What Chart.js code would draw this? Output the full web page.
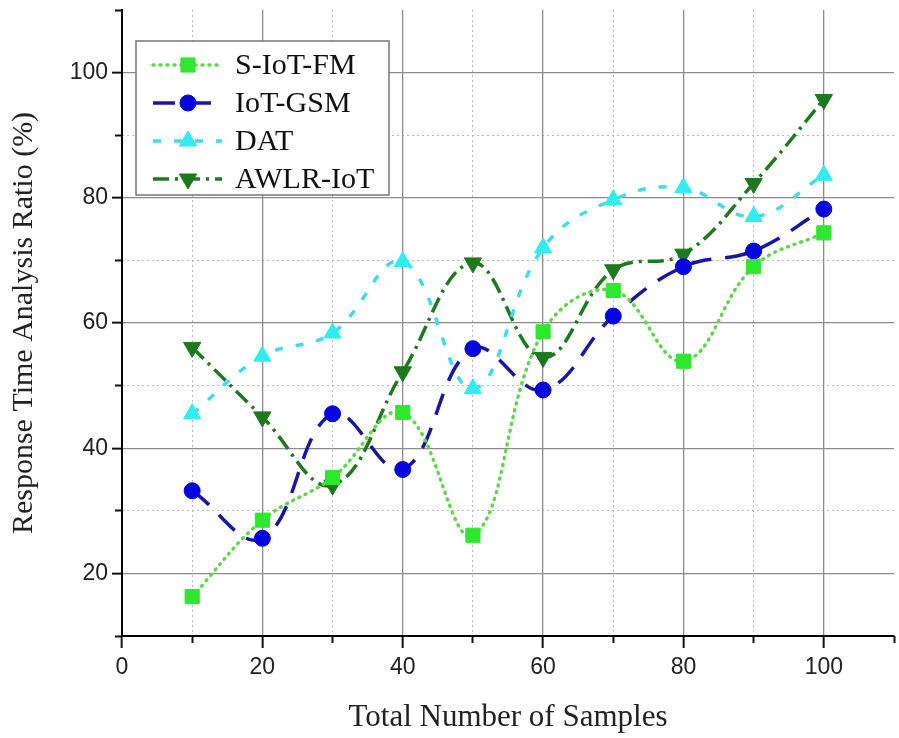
<!DOCTYPE html>
<html>
<head>
<meta charset="utf-8">
<script src="https://cdn.jsdelivr.net/npm/chart.js@4.4.0/dist/chart.umd.min.js"></script>
<style>
  body { margin: 0; background: #fff; }
  #wrap { width: 899px; height: 738px; }
</style>
</head>
<body>
<div id="wrap"><canvas id="chart" width="899" height="738"></canvas></div>
<script>
// values
const samples = [10, 20, 30, 40, 50, 60, 70, 80, 90, 100];
const sIotFm = [16.3, 28.5, 35.3, 45.7, 26.1, 58.6, 65.2, 53.9, 69.0, 74.4];
const iotGsm = [33.2, 25.6, 45.5, 36.6, 55.9, 49.3, 61.1, 69.0, 71.5, 78.2];
const dat = [45.5, 54.7, 58.4, 69.8, 49.5, 72.0, 79.7, 81.6, 77.0, 83.6];
const awlrIot = [56.1, 45.0, 34.1, 52.2, 69.6, 54.5, 68.5, 71.0, 82.3, 95.7];

const xLabels = [0, 20, 40, 60, 80, 100];
const yLabels = [20, 40, 60, 80, 100];

const serif = "'Liberation Serif', 'Times New Roman', serif";
const sans = "'Liberation Sans', Arial, sans-serif";

function series(label, values, style) {
    return Object.assign({
        label: label,
        data: samples.map((x, i) => ({ x: x, y: values[i] })),
        xAxisID: 'x',
        yAxisID: 'y',
        fill: false,
        tension: 0.4,
        borderWidth: 3.5,
        pointBorderWidth: 1
    }, style);
}

const isMajor = (v) => v % 20 === 0;

// keep the plot box where the original one is: no automatic label padding
function noPadding(s) {
    s.paddingLeft = 0;
    s.paddingRight = 0;
    s.paddingTop = 0;
    s.paddingBottom = 0;
}

// draws the boxed legend inside the plot, like the original figure
const insideLegend = {
    id: 'insideLegend',
    afterDraw(chart) {
        const { ctx, chartArea } = chart;
        const x0 = chartArea.left + 14;
        const y0 = chartArea.top + 31;
        ctx.save();
        ctx.fillStyle = '#fff';
        ctx.fillRect(x0, y0, 253, 154);
        ctx.strokeStyle = '#777';
        ctx.lineWidth = 1.5;
        ctx.strokeRect(x0, y0, 253, 154);

        chart.data.datasets.forEach((ds, i) => {
            const y = y0 + 24 + i * 38;
            ctx.save();
            ctx.strokeStyle = ds.borderColor;
            ctx.lineWidth = ds.borderWidth;
            ctx.lineCap = ds.borderCapStyle || 'butt';
            ctx.setLineDash(ds.borderDash || []);
            ctx.beginPath();
            ctx.moveTo(x0 + 17, y);
            ctx.lineTo(x0 + 86, y);
            ctx.stroke();
            ctx.restore();

            ctx.fillStyle = ds.pointBackgroundColor;
            ctx.strokeStyle = ds.pointBorderColor;
            ctx.lineWidth = 1;
            Chart.helpers.drawPoint(ctx, {
                pointStyle: ds.pointStyle,
                radius: ds.pointRadius,
                rotation: ds.pointRotation || 0,
                borderWidth: 1
            }, x0 + 52, y);

            ctx.fillStyle = '#111';
            ctx.font = '30px ' + serif;
            ctx.textBaseline = 'middle';
            ctx.textAlign = 'left';
            ctx.fillText(ds.label, x0 + 99, y + 1);
        });
        ctx.restore();
    }
};

const ctx = document.getElementById('chart').getContext('2d');

new Chart(ctx, {
    type: 'line',
    data: {
        datasets: [
            series('S-IoT-FM', sIotFm, {
                borderColor: '#5ed84a',
                borderDash: [1, 6],
                borderCapStyle: 'round',
                pointStyle: 'rect',
                pointRadius: 10,
                pointBackgroundColor: '#2ee82e',
                pointBorderColor: '#2ee82e'
            }),
            series('IoT-GSM', iotGsm, {
                borderColor: '#1616a8',
                borderDash: [22, 14],
                pointStyle: 'circle',
                pointRadius: 8,
                pointBackgroundColor: '#0505e0',
                pointBorderColor: '#0505e0'
            }),
            series('DAT', dat, {
                borderColor: '#40dcec',
                borderDash: [8, 13],
                pointStyle: 'triangle',
                pointRadius: 10,
                pointBackgroundColor: '#30eef0',
                pointBorderColor: '#30eef0'
            }),
            series('AWLR-IoT', awlrIot, {
                borderColor: '#1e7a1e',
                borderDash: [16, 6, 3, 6],
                pointStyle: 'triangle',
                pointRotation: 180,
                pointRadius: 10,
                pointBackgroundColor: '#1c7a1c',
                pointBorderColor: '#1c7a1c'
            })
        ]
    },
    options: {
        responsive: false,
        animation: false,
        devicePixelRatio: 1,
        layout: { autoPadding: false, padding: { top: 10, right: 5, left: 0, bottom: 0 } },
        plugins: {
            legend: { display: false },
            tooltip: { enabled: false }
        },
        scales: {
            // minor grid + minor ticks (hidden labels)
            xm: {
                type: 'linear', axis: 'x', position: 'bottom', weight: 0,
                min: 0, max: 110,
                ticks: { display: false, stepSize: 10, autoSkip: false },
                border: { display: false, dash: [2, 3] },
                grid: {
                    lineWidth: 1,
                    tickLength: 7,
                    tickWidth: 2,
                    color: (c) => (!isMajor(c.tick.value) && c.tick.value < 110) ? '#b8b8b8' : 'transparent',
                    tickColor: (c) => isMajor(c.tick.value) ? 'transparent' : '#111'
                },
                afterFit: (s) => { s.height = 0; noPadding(s); }
            },
            ym: {
                type: 'linear', axis: 'y', position: 'left', weight: 0,
                min: 10, max: 110,
                ticks: { display: false, stepSize: 10, autoSkip: false },
                border: { display: false, dash: [2, 3] },
                grid: {
                    lineWidth: 1,
                    tickLength: 7,
                    tickWidth: 2,
                    color: (c) => (!isMajor(c.tick.value) && c.tick.value > 10 && c.tick.value < 110) ? '#b8b8b8' : 'transparent',
                    tickColor: (c) => isMajor(c.tick.value) ? 'transparent' : '#111'
                },
                afterFit: (s) => { s.width = 0; noPadding(s); }
            },
            x: {
                type: 'linear', position: 'bottom', weight: 1,
                min: 0, max: 110,
                border: { display: true, color: '#000', width: 2 },
                grid: {
                    lineWidth: 1.3,
                    tickLength: 12,
                    tickWidth: 2,
                    color: (c) => (isMajor(c.tick.value) && c.tick.value > 0) ? '#8c8c8c' : 'transparent',
                    tickColor: (c) => isMajor(c.tick.value) ? '#111' : 'transparent'
                },
                ticks: {
                    stepSize: 10,
                    autoSkip: false,
                    maxRotation: 0,
                    padding: 6,
                    color: '#222',
                    font: { family: sans, size: 23 },
                    callback: (v) => xLabels.includes(v) ? String(v) : ''
                },
                title: {
                    display: true,
                    text: 'Total Number of Samples',
                    color: '#222',
                    font: { family: serif, size: 31 },
                    padding: { top: 0, bottom: 2 }
                },
                afterFit: (s) => { s.height = 102; noPadding(s); }
            },
            y: {
                type: 'linear', position: 'left', weight: 1,
                min: 10, max: 110,
                border: { display: true, color: '#000', width: 2 },
                grid: {
                    lineWidth: 1.3,
                    tickLength: 10,
                    tickWidth: 2,
                    color: (c) => (isMajor(c.tick.value) && c.tick.value < 110) ? '#8c8c8c' : 'transparent',
                    tickColor: (c) => isMajor(c.tick.value) ? '#111' : 'transparent'
                },
                ticks: {
                    stepSize: 10,
                    autoSkip: false,
                    padding: 4,
                    color: '#222',
                    font: { family: sans, size: 23 },
                    callback: (v) => yLabels.includes(v) ? String(v) : ''
                },
                title: {
                    display: true,
                    text: 'Response Time Analysis Ratio (%)',
                    color: '#222',
                    font: { family: serif, size: 30 },
                    padding: { top: 6, bottom: 0 }
                },
                afterFit: (s) => { s.width = 122; noPadding(s); }
            }
        }
    },
    plugins: [insideLegend]
});
</script>
</body>
</html>
